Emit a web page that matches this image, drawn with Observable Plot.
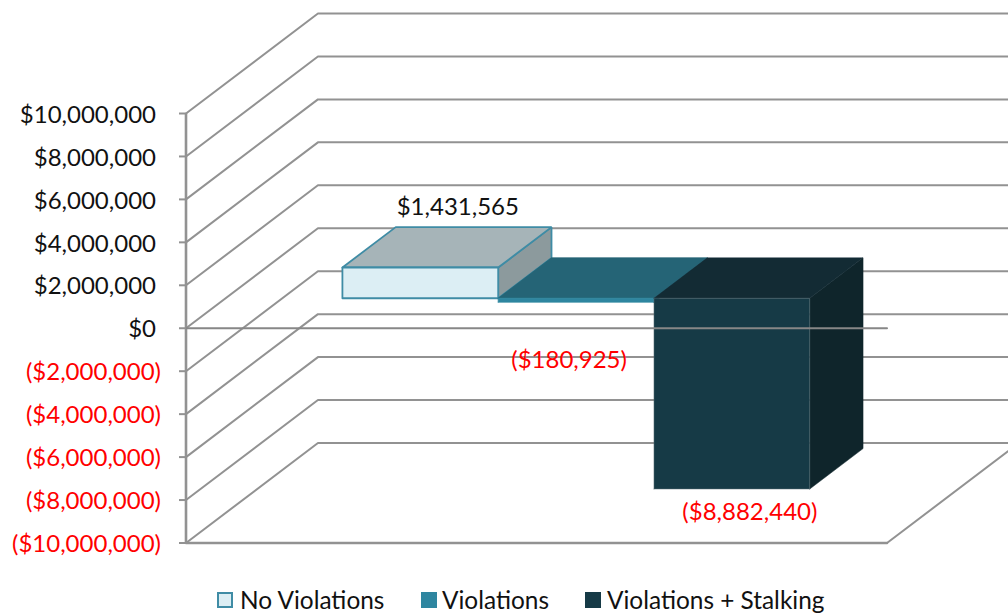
<!DOCTYPE html>
<html>
<head>
<meta charset="utf-8">
<script src="https://cdn.jsdelivr.net/npm/d3@7"></script>
<script src="https://cdn.jsdelivr.net/npm/@observablehq/plot@0.6"></script>
<style>
html,body{margin:0;padding:0;background:#fff;overflow:hidden}
#legend{position:absolute;top:585px;left:0;width:1008px;height:31px;font:24.4px Lato,sans-serif;color:#111}
#legend span{position:absolute;top:0;white-space:nowrap;line-height:30px}
#legend i{position:absolute;top:7px;width:16px;height:16px;display:block;box-sizing:border-box}
</style>
</head>
<body>
<div id="chart"></div>
<div id="legend"></div>
<script>
const categories = ["No Violations", "Violations", "Violations + Stalking"];
const values = [1431565, -180925, -8882440];
const labels = ["$1,431,565", "($180,925)", "($8,882,440)"];
const positiveTicks = [0, 2000000, 4000000, 6000000, 8000000, 10000000];
const negativeTicks = [-2000000, -4000000, -6000000, -8000000, -10000000];
const allTicks = [...negativeTicks, ...positiveTicks];

const font = "Lato, sans-serif";
const gridColor = "#929292";
const frontColors = ["#dceef4", "#2e86a0", "#163a46"];
const topColors = ["#a6b4b8", "#256476", "#132b34"];
const sideColors = ["#8c9a9d", "#1f5566", "#0f252b"];
const edgeColors = ["#3f8ca5", "#2e86a0", "#5d7078"];

// oblique projection of (category position, dollars, depth 0..1) to the plane of the scales
const XMAX = 4.5, DEPTH_X = 0.847, DEPTH_Y = 4657000;
const P = (x, v, d) => [x + d * DEPTH_X, v + d * DEPTH_Y];
const GAP = 0.75, D0 = 0.3, D1 = 0.704;
const path = (pts, o) => Plot.line(pts, {x: p => p[0], y: p => p[1], ...o});

const marks = [];
// walls
for (const t of allTicks) {
  marks.push(path([P(0, t, 0), P(0, t, 1), P(XMAX, t, 1)], {stroke: gridColor, strokeWidth: 2}));
}
marks.push(path([P(XMAX, -10000000, 0), P(XMAX, -10000000, 1)], {stroke: gridColor, strokeWidth: 2}));
marks.push(path([P(0, -10000000, 0), P(XMAX, -10000000, 0)], {stroke: gridColor, strokeWidth: 2.4}));
marks.push(Plot.ruleX([0], {y1: -10000000, y2: 10000000, stroke: gridColor, strokeWidth: 2.6}));

// bars
const edgeWidths = [1.8, 0.8, 0.5];
values.forEach((v, i) => {
  const a = GAP + i, b = a + 1, top = Math.max(v, 0), low = Math.min(v, 0);
  const face = (pts, fill, stroke) => marks.push(path([...pts, pts[0]], {
    fill, stroke, strokeWidth: edgeWidths[i], strokeLinejoin: "miter"
  }));
  face([P(b, low, D0), P(b, top, D0), P(b, top, D1), P(b, low, D1)], sideColors[i], i === 0 ? edgeColors[i] : sideColors[i]);
  face([P(a, top, D0), P(b, top, D0), P(b, top, D1), P(a, top, D1)], topColors[i], i === 0 ? edgeColors[i] : topColors[i]);
  face([P(a, low, D0), P(b, low, D0), P(b, top, D0), P(a, top, D0)], frontColors[i], edgeColors[i]);
});

// front zero line passes over the bars
marks.push(path([P(0, 0, 0), P(XMAX, 0, 0)], {stroke: "#878787", strokeWidth: 2}));

// value labels
const offsets = [[37.5, -60], [-7, 58], [18, 23]];
values.forEach((v, i) => {
  const pos = P(GAP + i + 0.5, v, D0);
  marks.push(Plot.text([labels[i]], {
    x: () => pos[0], y: () => pos[1], text: d => d,
    dx: offsets[i][0], dy: offsets[i][1],
    fontSize: 24, fontFamily: font, fill: v < 0 ? "#ff0000" : "#111"
  }));
});

const money = d => d3.format(",")(Math.abs(d));
marks.push(Plot.axisY(allTicks, {
  anchor: "left", tickSize: 7, text: null, stroke: gridColor, strokeWidth: 2
}));
marks.push(Plot.axisY(positiveTicks, {
  anchor: "left", tickSize: 0, tickPadding: 30.5, dy: 1.5,
  fill: "#111", fontSize: 24, fontFamily: font, fontVariant: "normal", tickFormat: d => "$" + money(d)
}));
marks.push(Plot.axisY(negativeTicks, {
  anchor: "left", tickSize: 0, tickPadding: 25.5, dy: 1.5,
  fill: "#ff0000", fontSize: 24, fontFamily: font, fontVariant: "normal", tickFormat: d => "($" + money(d) + ")"
}));

const chart = Plot.plot({
  width: 1008, height: 585,
  marginLeft: 186, marginRight: 121, marginTop: 113, marginBottom: 42,
  x: {domain: [0, XMAX], range: [185.5, 886.5], axis: null},
  y: {domain: [-10000000, 10000000], range: [542.5, 113], axis: null},
  style: {background: "transparent", overflow: "hidden"},
  marks
});
document.getElementById("chart").appendChild(chart);

// legend
const legendX = [[217, 240], [421, 442], [585, 607]];
const legend = document.getElementById("legend");
categories.forEach((c, i) => {
  const sw = document.createElement("i");
  sw.style.left = legendX[i][0] + "px";
  sw.style.background = frontColors[i];
  if (i === 0) sw.style.border = "2px solid " + edgeColors[0];
  legend.appendChild(sw);
  const s = document.createElement("span");
  s.style.left = legendX[i][1] + "px";
  s.textContent = c;
  legend.appendChild(s);
});
</script>
</body>
</html>
